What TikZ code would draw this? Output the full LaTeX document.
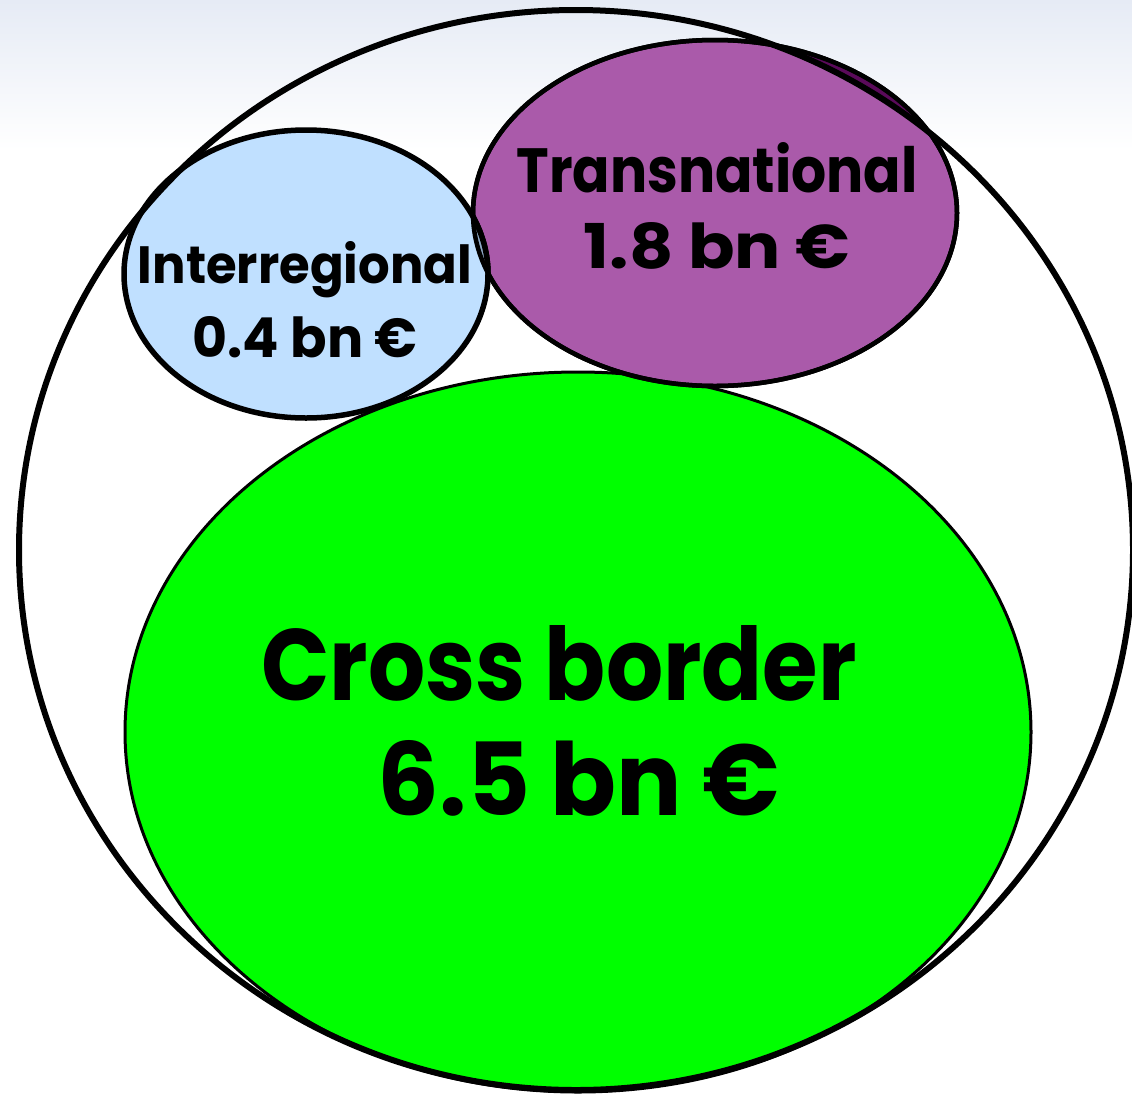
\documentclass[tikz,border=0pt]{standalone}
\usepackage{fontspec}
\setmainfont{Poppins}
\definecolor{bgtop}{HTML}{E6EBF5}
\definecolor{interblue}{HTML}{C0E0FF}
\definecolor{transpurple}{HTML}{AA5AAA}
\definecolor{crossgreen}{HTML}{00FF00}
\definecolor{overlapblue}{HTML}{8FAAC8}
\definecolor{darkpurple}{HTML}{5A0A5A}
\newcommand{\fitw}[3]{\resizebox{#1}{#2}{\bfseries #3}}
\tikzset{
  blob/.style={draw=black},
  lbl/.style={inner sep=0pt, anchor=base, text=black}
}
\begin{document}
\begin{tikzpicture}[x=1pt,y=-1pt]
\useasboundingbox (0,0) rectangle (1132,1093);
% background gradient
\fill[white] (0,0) rectangle (1132,1093);
\shade[top color=bgtop, bottom color=white] (0,0) rectangle (1132,150);
% cross border
\path[blob, fill=crossgreen, line width=3pt] (578,732) ellipse [x radius=453, y radius=360];
\coordinate (crossC) at (578,732);
% transnational
\path[blob, fill=transpurple, line width=4.5pt] (715,213) ellipse [x radius=242, y radius=173];
\coordinate (transC) at (715,213);
% darker sliver of transnational outside outer ellipse
\begin{scope}
  \clip (715,213) ellipse [x radius=240, y radius=171];
  \fill[darkpurple, even odd rule] (0,0) rectangle (1132,1093) (576,550) ellipse [x radius=557, y radius=540];
\end{scope}
% interregional
\path[blob, fill=interblue, line width=5.5pt] (306,274) ellipse [x radius=182, y radius=144];
\coordinate (interC) at (306,274);
\begin{scope}
  \clip (306,274) ellipse [x radius=180, y radius=142];
  \fill[overlapblue] (715,213) ellipse [x radius=244, y radius=175];
\end{scope}
\begin{scope}
  \clip (715,213) ellipse [x radius=244, y radius=175];
  \draw[line width=5.5pt] (306,274) ellipse [x radius=182, y radius=144];
\end{scope}
\draw[line width=4.5pt] (715,213) ellipse [x radius=242, y radius=173];
% outer ellipse
\draw[line width=6pt] (576,550) ellipse [x radius=557, y radius=540];
\coordinate (outerC) at (576,550);
% labels
\node[lbl] (interT) at (305,283) {\fitw{334pt}{42pt}{Interregional}};
\node[lbl] (interV) at (305,357) {\fitw{225pt}{41pt}{0.4 bn €}};
\node[lbl] (transT) at (717,192) {\fitw{401pt}{50pt}{Transnational}};
\node[lbl] (transV) at (717,268) {\fitw{266pt}{46pt}{1.8 bn €}};
\node[lbl] (crossT) at (559,700) {\fitw{595pt}{75pt}{Cross border}};
\node[lbl] (crossV) at (579,815) {\fitw{402pt}{75pt}{6.5 bn €}};
\end{tikzpicture}
\end{document}
